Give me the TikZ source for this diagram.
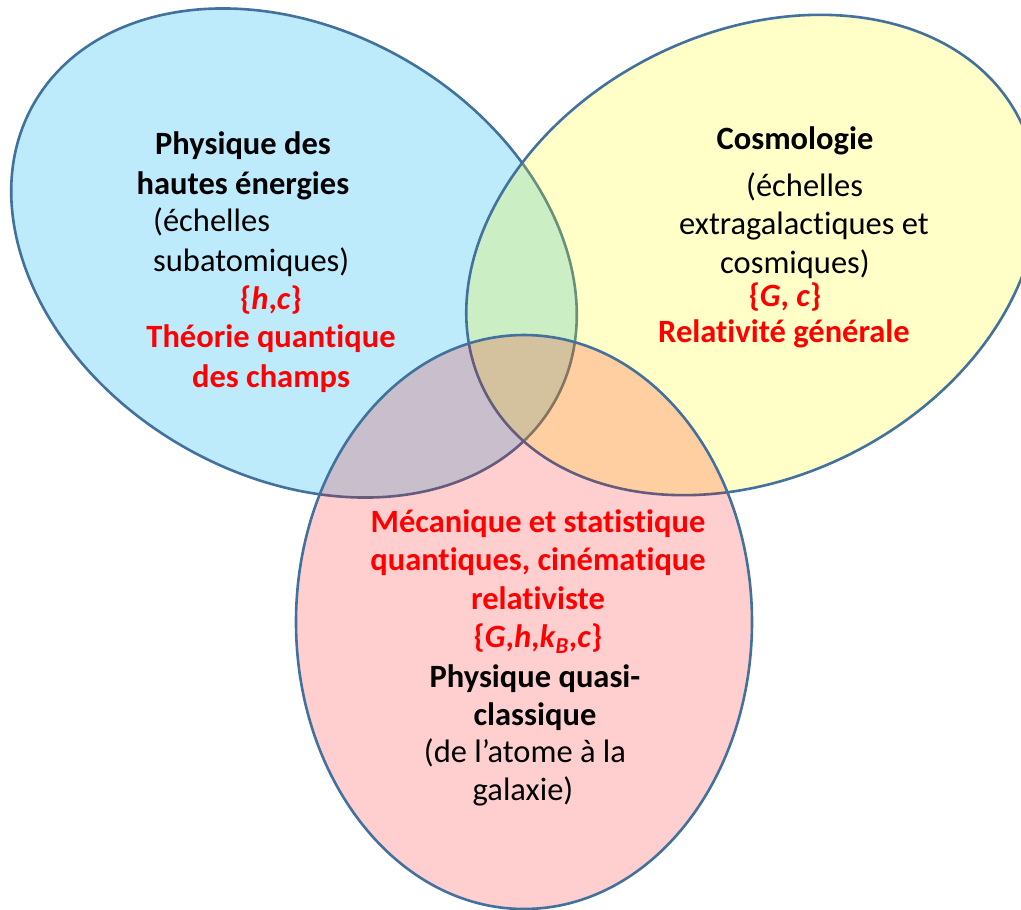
\documentclass[tikz,border=0pt]{standalone}
\usepackage{fontspec}
\setmainfont{Carlito}[Ligatures=NoCommon]
\definecolor{edge}{RGB}{65,113,156}
\definecolor{bluefill}{RGB}{0,176,240}
\definecolor{yellowfill}{RGB}{255,255,0}
\definecolor{redfill}{RGB}{255,0,0}
\definecolor{labred}{RGB}{255,0,0}
\begin{document}
\begin{tikzpicture}[x=1pt,y=-1pt,
  zone/.style={draw=edge, line width=2.6pt},
  txt/.style={inner sep=0pt, anchor=base, font=\fontsize{32.5}{40}\selectfont},
  hd/.style={txt, font=\fontsize{32.5}{40}\selectfont\bfseries},
  rd/.style={hd, text=labred}]
\useasboundingbox (0,0) rectangle (1021,910);
\clip (0,0) rectangle (1021,910);

% high-energy physics domain
\begin{scope}[shift={(294,253)}, rotate=-30]
  \fill[bluefill, fill opacity=0.26] (0,0) ellipse [x radius=300pt, y radius=223pt];
  \draw[zone] (0,0) ellipse [x radius=300pt, y radius=223pt];
\end{scope}
% cosmology domain
\begin{scope}[shift={(752,255)}, rotate=27]
  \fill[yellowfill, fill opacity=0.22] (0,0) ellipse [x radius=300pt, y radius=222pt];
  \draw[zone] (0,0) ellipse [x radius=300pt, y radius=222pt];
\end{scope}
% quasi-classical domain
\begin{scope}[shift={(524,622)}]
  \fill[redfill, fill opacity=0.19] (0,0) ellipse [x radius=228pt, y radius=287pt];
  \draw[zone] (0,0) ellipse [x radius=228pt, y radius=287pt];
\end{scope}

% labels of the high-energy domain
\node[hd] (b1) at (243,154) {Physique des};
\node[hd] (b2) at (243,194) {hautes énergies};
\node[txt, anchor=base west] (b3) at (153,231) {(échelles};
\node[txt, anchor=base west] (b4) at (153,271) {subatomiques)};
\node[rd] (b5) at (271,309) {\{\textit{h},\textit{c}\}};
\node[rd] (b6) at (271,347) {Théorie quantique};
\node[rd] (b7) at (271,387) {des champs};

% labels of the cosmology domain
\node[hd] (y1) at (795,149) {Cosmologie};
\node[txt, anchor=base west] (y2) at (746,196) {(échelles};
\node[txt] (y3) at (804,234) {extragalactiques et};
\node[txt] (y4) at (795,273) {cosmiques)};
\node[rd] (y5) at (785,306) {\{\textit{G}, \textit{c}\}};
\node[rd] (y6) at (784,342) {Relativité générale};

% labels of the quasi-classical domain
\node[rd] (r1) at (538,532) {Mécanique et statistique};
\node[rd] (r2) at (538,570) {quantiques, cinématique};
\node[rd] (r3) at (538,609) {relativiste};
\node[rd] (r4) at (538,647) {\{\textit{G},\textit{h},\textit{k}\textsubscript{\textit{B}},\textit{c}\}};
\node[hd] (r5) at (535,687) {Physique quasi-};
\node[hd] (r6) at (535,725) {classique};
\node[txt] (r7) at (525,762) {(de l’atome à la};
\node[txt] (r8) at (523,800) {galaxie)};
\end{tikzpicture}
\end{document}
